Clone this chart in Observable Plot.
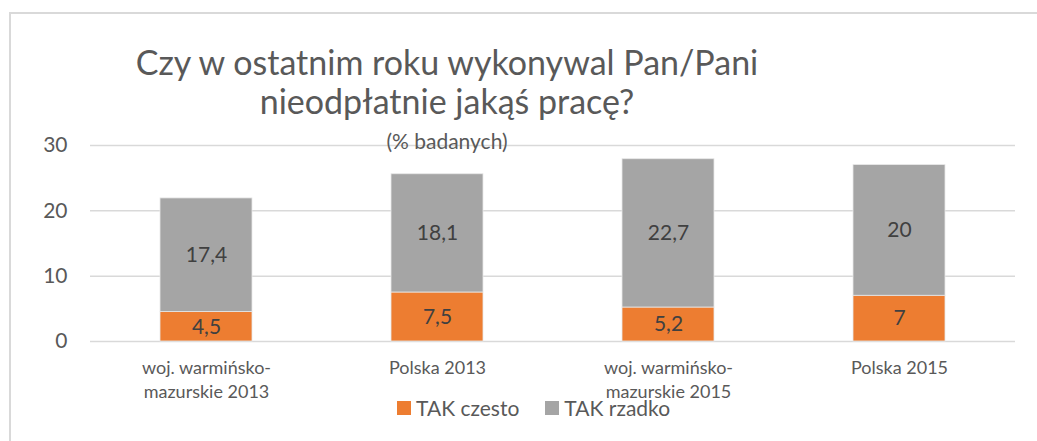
<!DOCTYPE html>
<html><head><meta charset="utf-8">
<script src="https://cdn.jsdelivr.net/npm/d3@7"></script>
<script src="https://cdn.jsdelivr.net/npm/@observablehq/plot@0.6"></script>
<style>
body{margin:0;background:#fff;}
#wrap{position:relative;width:1037px;height:441px;overflow:hidden;font-family:Lato,"Open Sans",sans-serif;color:#595959;}
#frame{position:absolute;left:9px;top:12px;width:1100px;height:500px;border-left:2px solid #d9d9d9;border-top:2px solid #d9d9d9;}
.t{position:absolute;left:0;width:894px;text-align:center;white-space:nowrap;}
#t1{top:41px;font-size:34px;}
#t2{top:80px;font-size:34px;}
#t3{top:128px;font-size:21px;}
#legend{position:absolute;left:397px;top:395px;font-size:21px;display:flex;align-items:center;white-space:nowrap;}
.sw{display:inline-block;width:14px;height:14px;margin-right:5px;}
#chart{position:absolute;left:0;top:0;}
</style></head>
<body><div id="wrap"><div id="frame"></div><div id="chart"></div>
<div class="t" id="t1">Czy w ostatnim roku wykonywal Pan/Pani</div>
<div class="t" id="t2">nieodpłatnie jakąś pracę?</div>
<div class="t" id="t3">(% badanych)</div>
<div id="legend"><span class="sw" style="background:#ED7D31"></span>TAK czesto<span class="sw" style="background:#A5A5A5;margin-left:26px"></span>TAK rzadko</div>
</div>
<script>
const categories = ["woj. warmińsko-\nmazurskie 2013", "Polska 2013", "woj. warmińsko-\nmazurskie 2015", "Polska 2015"];
const series = ["TAK czesto", "TAK rzadko"];
const czesto = [4.5, 7.5, 5.2, 7];
const rzadko = [17.4, 18.1, 22.7, 20];
const yTicks = [0, 10, 20, 30];
const colors = ["#ED7D31", "#A5A5A5"];

const data = [];
categories.forEach((c, i) => {
  data.push({cat: c, series: series[0], value: czesto[i]});
  data.push({cat: c, series: series[1], value: rzadko[i]});
});
const fmt = v => String(v).replace(".", ",");

const chart = Plot.plot({
  width: 1037, height: 441,
  marginLeft: 90, marginRight: 22, marginTop: 145, marginBottom: 100,
  style: {fontFamily: 'Lato,"Open Sans",sans-serif', background: "transparent", color: "#595959"},
  x: {domain: categories, paddingInner: 0.6, paddingOuter: 0.3, label: null},
  y: {domain: [0, 30], ticks: yTicks, label: null},
  color: {domain: series, range: colors},
  marks: [
    Plot.gridY(yTicks, {stroke: "#d9d9d9", strokeOpacity: 1, strokeWidth: 1.5}),
    Plot.barY(data, Plot.stackY({x: "cat", y: "value", fill: "series", order: series, stroke: "#e8e8e8", strokeWidth: 0.8})),
    Plot.text(data, Plot.stackY({x: "cat", y: "value", z: "series", order: series, text: d => fmt(d.value), fill: "#404040", fontSize: 21})),
    Plot.axisY(yTicks, {tickSize: 0, tickPadding: 23, fontSize: 21, fill: "#595959", label: null}),
    Plot.axisX({tickSize: 0, tickPadding: 16, fontSize: 18, fill: "#595959", label: null, lineHeight: 1.3})
  ]
});
document.getElementById("chart").appendChild(chart);
</script></body></html>
